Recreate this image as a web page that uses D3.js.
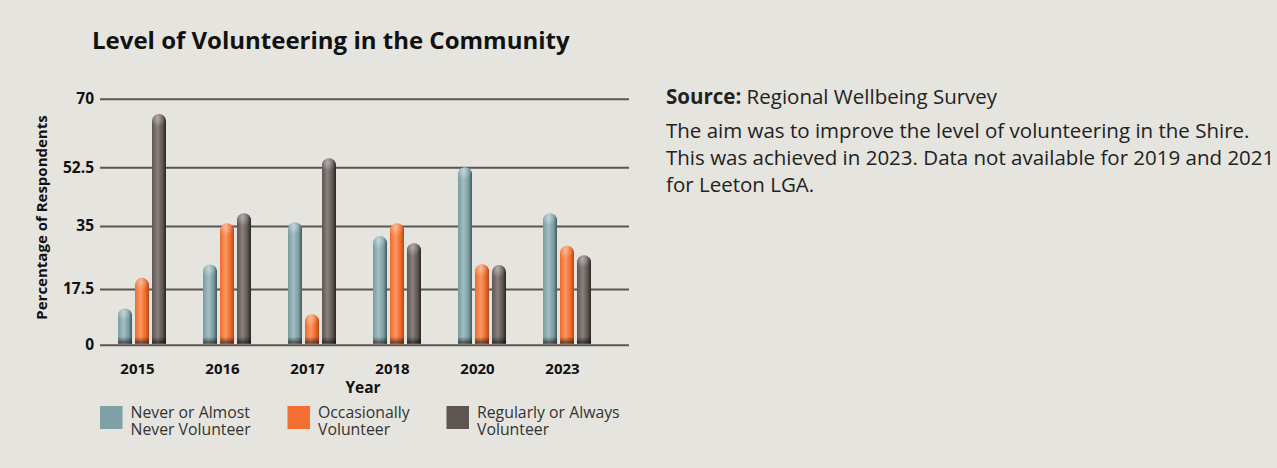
<!DOCTYPE html>
<html>
<head>
<meta charset="utf-8">
<script src="https://cdn.jsdelivr.net/npm/d3@7"></script>
<style>
  html, body { margin: 0; padding: 0; background: #e5e4de; }
  svg { display: block; font-family: "Open Sans", sans-serif; }
</style>
</head>
<body>
<svg id="chart" width="1277" height="468"></svg>
<script>
// ---- data ----
const years = ["2015", "2016", "2017", "2018", "2020", "2023"];
const seriesNames = ["Never or Almost Never Volunteer", "Occasionally Volunteer", "Regularly or Always Volunteer"];
const neverVals = [11.4, 24.3, 36.1, 32.2, 52.5, 38.8];
const occasionalVals = [20.6, 35.8, 9.6, 35.8, 24.4, 29.5];
const regularVals = [66.1, 38.8, 54.8, 30.2, 24.2, 26.9];
const yTicks = [0, 17.5, 35, 52.5, 70];
const legendLines = [["Never or Almost", "Never Volunteer"], ["Occasionally", "Volunteer"], ["Regularly or Always", "Volunteer"]];
const paragraph = ["The aim was to improve the level of volunteering in the Shire.",
  "This was achieved in 2023. Data not available for 2019 and 2021",
  "for Leeton LGA."];

const colors = ["#7fa0a5", "#f36f31", "#5e5552"];
const grads = [
  ["#7a9ba0", "#a2bfc3", "#3f5a5f"],
  ["#ee6a2c", "#fb9862", "#b6471a"],
  ["#5f5653", "#8a817e", "#2b2422"]
];

const svg = d3.select("#chart");
svg.append("rect").attr("width", 1277).attr("height", 468).attr("fill", "#e5e4de");

// gradients
const defs = svg.append("defs");
grads.forEach((g, i) => {
  const lg = defs.append("linearGradient").attr("id", "g" + i).attr("x1", 0).attr("x2", 1).attr("y1", 0).attr("y2", 0);
  lg.append("stop").attr("offset", "0%").attr("stop-color", g[0]);
  lg.append("stop").attr("offset", "40%").attr("stop-color", g[1]);
  lg.append("stop").attr("offset", "75%").attr("stop-color", g[0]);
  lg.append("stop").attr("offset", "100%").attr("stop-color", g[2]);
});
const shade = defs.append("linearGradient").attr("id", "shade").attr("x1", 0).attr("x2", 0).attr("y1", 0).attr("y2", 1);
shade.append("stop").attr("offset", "0%").attr("stop-color", "#000").attr("stop-opacity", 0);
shade.append("stop").attr("offset", "100%").attr("stop-color", "#000").attr("stop-opacity", 0.6);
const cap = defs.append("radialGradient").attr("id", "cap").attr("cx", "40%").attr("cy", "30%").attr("r", "60%");
cap.append("stop").attr("offset", "0%").attr("stop-color", "#fff").attr("stop-opacity", 0.35);
cap.append("stop").attr("offset", "100%").attr("stop-color", "#fff").attr("stop-opacity", 0);

// scales
const y = d3.scaleLinear().domain(yTicks).range([344.7, 289, 226, 167.3, 98.7]);
const xGroup = d3.scalePoint().domain(years).range([142, 567]);
const xInner = d3.scaleBand().domain([0, 1, 2]).range([-24, 24]).paddingInner(0.176);

// title
svg.append("text").attr("x", 92).attr("y", 49).attr("font-size", 24).attr("font-weight", 700)
  .attr("fill", "#111").text("Level of Volunteering in the Community");

// grid + y axis
const yAxis = svg.append("g").attr("transform", "translate(100,0)")
  .call(d3.axisLeft(y).tickValues(yTicks).tickSize(-529).tickPadding(6).tickFormat(d => String(d)));
yAxis.select(".domain").remove();
yAxis.selectAll(".tick line").attr("stroke", "#5e5552").attr("stroke-width", 2);
yAxis.selectAll(".tick text").attr("font-size", 15.5).attr("font-weight", 700).attr("fill", "#111")
  .attr("font-family", "Open Sans, sans-serif");

svg.append("text").attr("transform", "translate(46.5,217.5) rotate(-90)").attr("text-anchor", "middle")
  .attr("font-size", 15).attr("font-weight", 700).attr("fill", "#111").text("Percentage of Respondents");

// bars
const allVals = [neverVals, occasionalVals, regularVals];
const bw = xInner.bandwidth();
const r = bw / 2;
const base = y(0) - 1;
const barData = [];
years.forEach((yr, gi) => {
  allVals.forEach((vals, si) => barData.push({ yr, si, v: vals[gi] }));
});
const bars = svg.append("g").selectAll("g").data(barData).join("g")
  .attr("transform", d => `translate(${xGroup(d.yr) + xInner(d.si)},0)`);
function barPath(d) {
  const top = y(d.v);
  return `M0,${base} L0,${top + r} A${r},${r} 0 0 1 ${bw},${top + r} L${bw},${base} Z`;
}
bars.append("path").attr("d", barPath).attr("fill", d => `url(#g${d.si})`);
bars.append("rect").attr("x", 0).attr("width", bw).attr("y", base - 7).attr("height", 7).attr("fill", "url(#shade)");
bars.append("ellipse").attr("cx", r).attr("cy", d => y(d.v) + r).attr("rx", r).attr("ry", r).attr("fill", "url(#cap)");

// x axis labels (slightly left of group centres, as in the reference)
const xAxis = svg.append("g").attr("transform", "translate(-5,360)")
  .call(d3.axisBottom(xGroup).tickSize(0).tickPadding(3));
xAxis.select(".domain").remove();
xAxis.selectAll(".tick text").attr("font-size", 15).attr("font-weight", 700).attr("fill", "#111")
  .attr("font-family", "Open Sans, sans-serif");
svg.append("text").attr("x", 363).attr("y", 393).attr("text-anchor", "middle")
  .attr("font-size", 15.5).attr("font-weight", 700).attr("fill", "#111").text("Year");

// legend
const legendX = d3.scaleOrdinal().domain([0, 1, 2]).range([100, 287.5, 446.5]);
const lg = svg.append("g").selectAll("g").data(seriesNames).join("g")
  .attr("transform", (d, i) => `translate(${legendX(i)},406)`);
lg.append("rect").attr("width", 22.5).attr("height", 23).attr("fill", (d, i) => colors[i]);
lg.each(function (d, i) {
  const t = d3.select(this).append("text").attr("font-size", 15.8).attr("fill", "#333");
  legendLines[i].forEach((line, li) => t.append("tspan").attr("x", 30.5).attr("y", 11.5 + li * 17.5).text(line));
});

// source text
const src = svg.append("text").attr("x", 666).attr("y", 104).attr("font-size", 20.5).attr("fill", "#222");
src.append("tspan").attr("font-weight", 700).text("Source:");
src.append("tspan").text(" Regional Wellbeing Survey");
const pt = svg.append("text").attr("font-size", 20.5).attr("fill", "#222");
paragraph.forEach((l, i) => pt.append("tspan").attr("x", 666).attr("y", 138 + i * 27).text(l));
</script>
</body>
</html>
